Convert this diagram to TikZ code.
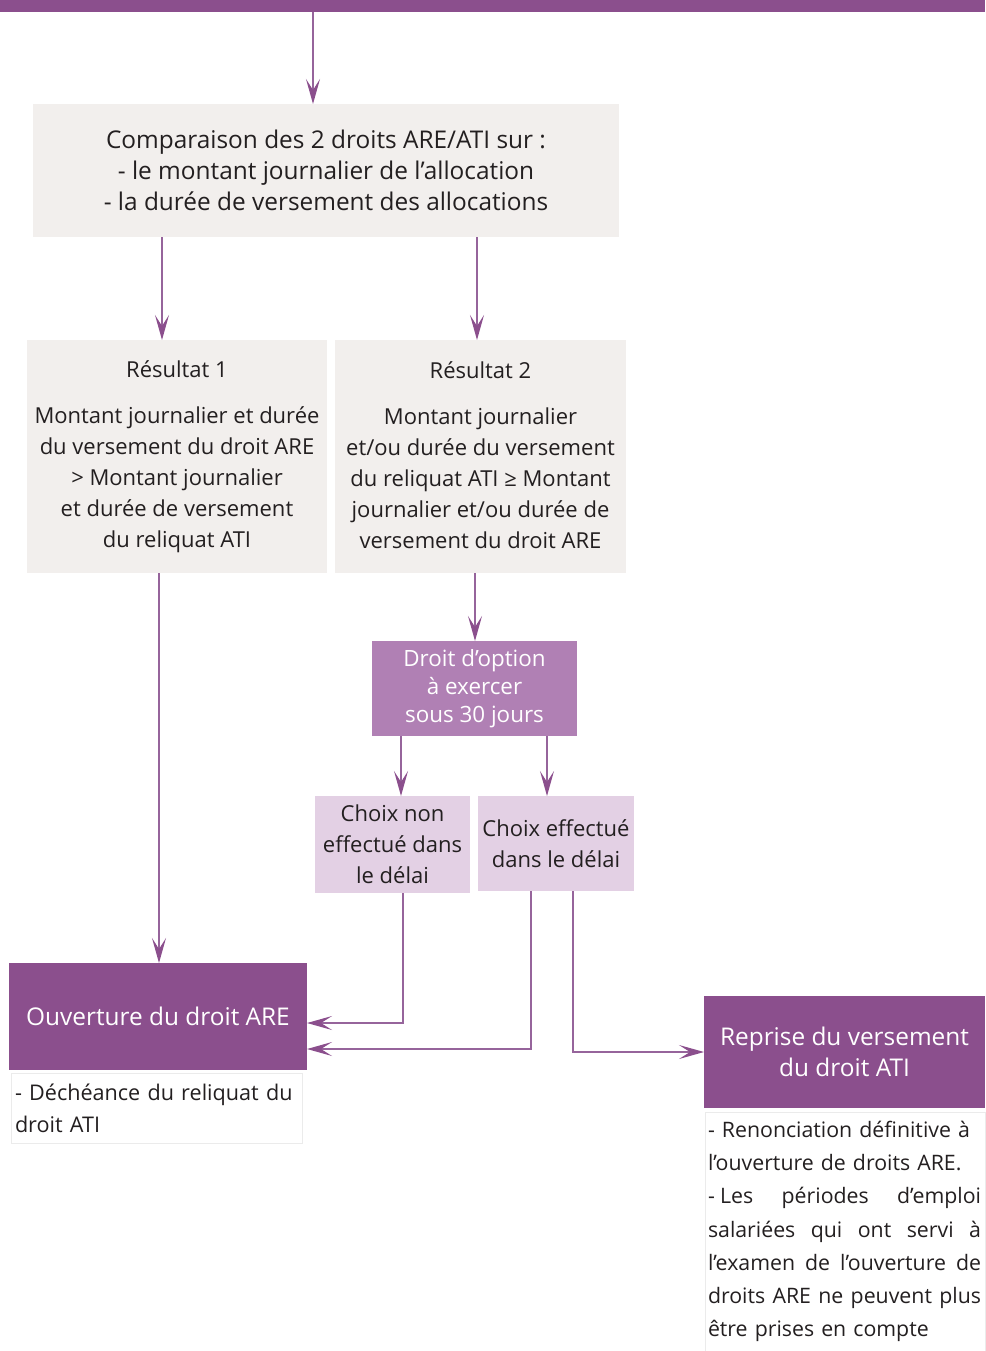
\documentclass[tikz,border=0pt]{standalone}
\usepackage{fontspec}
\setmainfont{Open Sans}
\usetikzlibrary{arrows.meta}
\definecolor{dpurple}{RGB}{139,79,141}
\definecolor{mpurple}{RGB}{176,128,180}
\definecolor{lpurple}{RGB}{227,208,228}
\definecolor{lgrey}{RGB}{242,239,237}
\definecolor{txt}{RGB}{35,31,32}
\definecolor{linec}{RGB}{150,100,155}
\newcommand{\jline}[1]{\leavevmode\hbox to 273pt{\spaceskip=0.25em plus 1fil\relax #1}}
\begin{document}
\begin{tikzpicture}[x=1pt,y=-1pt,
  base/.style={inner sep=0pt, outer sep=0pt, anchor=north west, align=center,
    font=\fontsize{22}{31}\selectfont},
  greybox/.style={base, fill=lgrey, text=txt},
  optbox/.style={base, fill=mpurple, text=white},
  choixbox/.style={base, fill=lpurple, text=txt},
  darkbox/.style={base, fill=dpurple, text=white, font=\fontsize{24.4}{31}\selectfont},
  notebox/.style={base, fill=white, draw=black!8, line width=0.6pt, text=txt},
  arr/.style={draw=linec, line width=1.3pt, -{Stealth[length=25pt,width=14pt,inset=11pt,color=dpurple]}}
]
\useasboundingbox (0,0) rectangle (985,1351);
\node[base, fill=dpurple, minimum width=985, minimum height=12] (top) at (0,0) {};
\node[greybox, minimum width=586, minimum height=133, font=\fontsize{24.4}{31}\selectfont] (cmp) at (33,104)
  {Comparaison des 2 droits ARE/ATI sur :\\- le montant journalier de l’allocation\\- la durée de versement des allocations};
\node[greybox, minimum width=300, minimum height=233] (r1) at (27,340) {};
\node[base, text=txt] at (r1.north) [anchor=north, yshift=-21] {Résultat 1\\[15pt]Montant journalier et durée\\du versement du droit ARE\\> Montant journalier\\et durée de versement\\du reliquat ATI};
\node[greybox, minimum width=291, minimum height=233] (r2) at (335,340) {};
\node[base, text=txt] at (r2.north) [anchor=north, yshift=-22] {Résultat 2\\[15pt]Montant journalier\\et/ou durée du versement\\du reliquat ATI ≥ Montant\\journalier et/ou durée de\\versement du droit ARE};
\node[optbox, minimum width=205, minimum height=95, font=\fontsize{22.4}{28}\selectfont] (opt) at (372,641) {Droit d’option\\à exercer\\sous 30 jours};
\node[choixbox, minimum width=155, minimum height=97] (cn) at (315,796) {Choix non\\effectué dans\\le délai};
\node[choixbox, minimum width=156, minimum height=95] (ce) at (478,796) {Choix effectué\\dans le délai};
\node[darkbox, minimum width=298, minimum height=107] (ouv) at (9,963) {Ouverture du droit ARE};
\node[notebox, minimum width=291, minimum height=70, align=left, text width=283, inner xsep=4pt, inner ysep=3pt, font=\fontsize{21.6}{32}\selectfont] (ouvn) at (11,1073) {- Déchéance du reliquat du\\droit ATI};
\node[darkbox, minimum width=281, minimum height=112] (rep) at (704,996) {Reprise du versement\\du droit ATI};
\node[notebox, minimum width=280, minimum height=239, align=left, text width=274, inner xsep=3pt, inner ysep=5pt, anchor=north west, font=\fontsize{21.3}{33.2}\selectfont] (repn) at (705,1112) {- Renonciation définitive à\\l’ouverture de droits ARE.\\\jline{-\kern0.25em Les périodes d’emploi}\\\jline{salariées qui ont servi à}\\\jline{l’examen de l’ouverture de}\\\jline{droits ARE ne peuvent plus}\\être prises en compte};
% connectors
\draw[arr] ([xshift=313]top.south west) -- ([xshift=313]top.south west |- cmp.north);
\draw[arr] ([xshift=129]cmp.south west) -- ([xshift=129]cmp.south west |- r1.north);
\draw[arr] ([xshift=444]cmp.south west) -- ([xshift=444]cmp.south west |- r2.north);
\draw[arr] ([xshift=132]r1.south west) -- ([xshift=132]r1.south west |- ouv.north);
\draw[arr] ([xshift=140]r2.south west) -- ([xshift=140]r2.south west |- opt.north);
\draw[arr] ([xshift=29]opt.south west) -- ([xshift=29]opt.south west |- cn.north);
\draw[arr] ([xshift=175]opt.south west) -- ([xshift=175]opt.south west |- ce.north);
\draw[arr] ([xshift=88]cn.south west) |- ([yshift=-6.5]ouv.east);
\draw[arr] ([xshift=53]ce.south west) |- ([yshift=-32.5]ouv.east);
\draw[arr] ([xshift=95]ce.south west) |- (rep.west);
\end{tikzpicture}
\end{document}
